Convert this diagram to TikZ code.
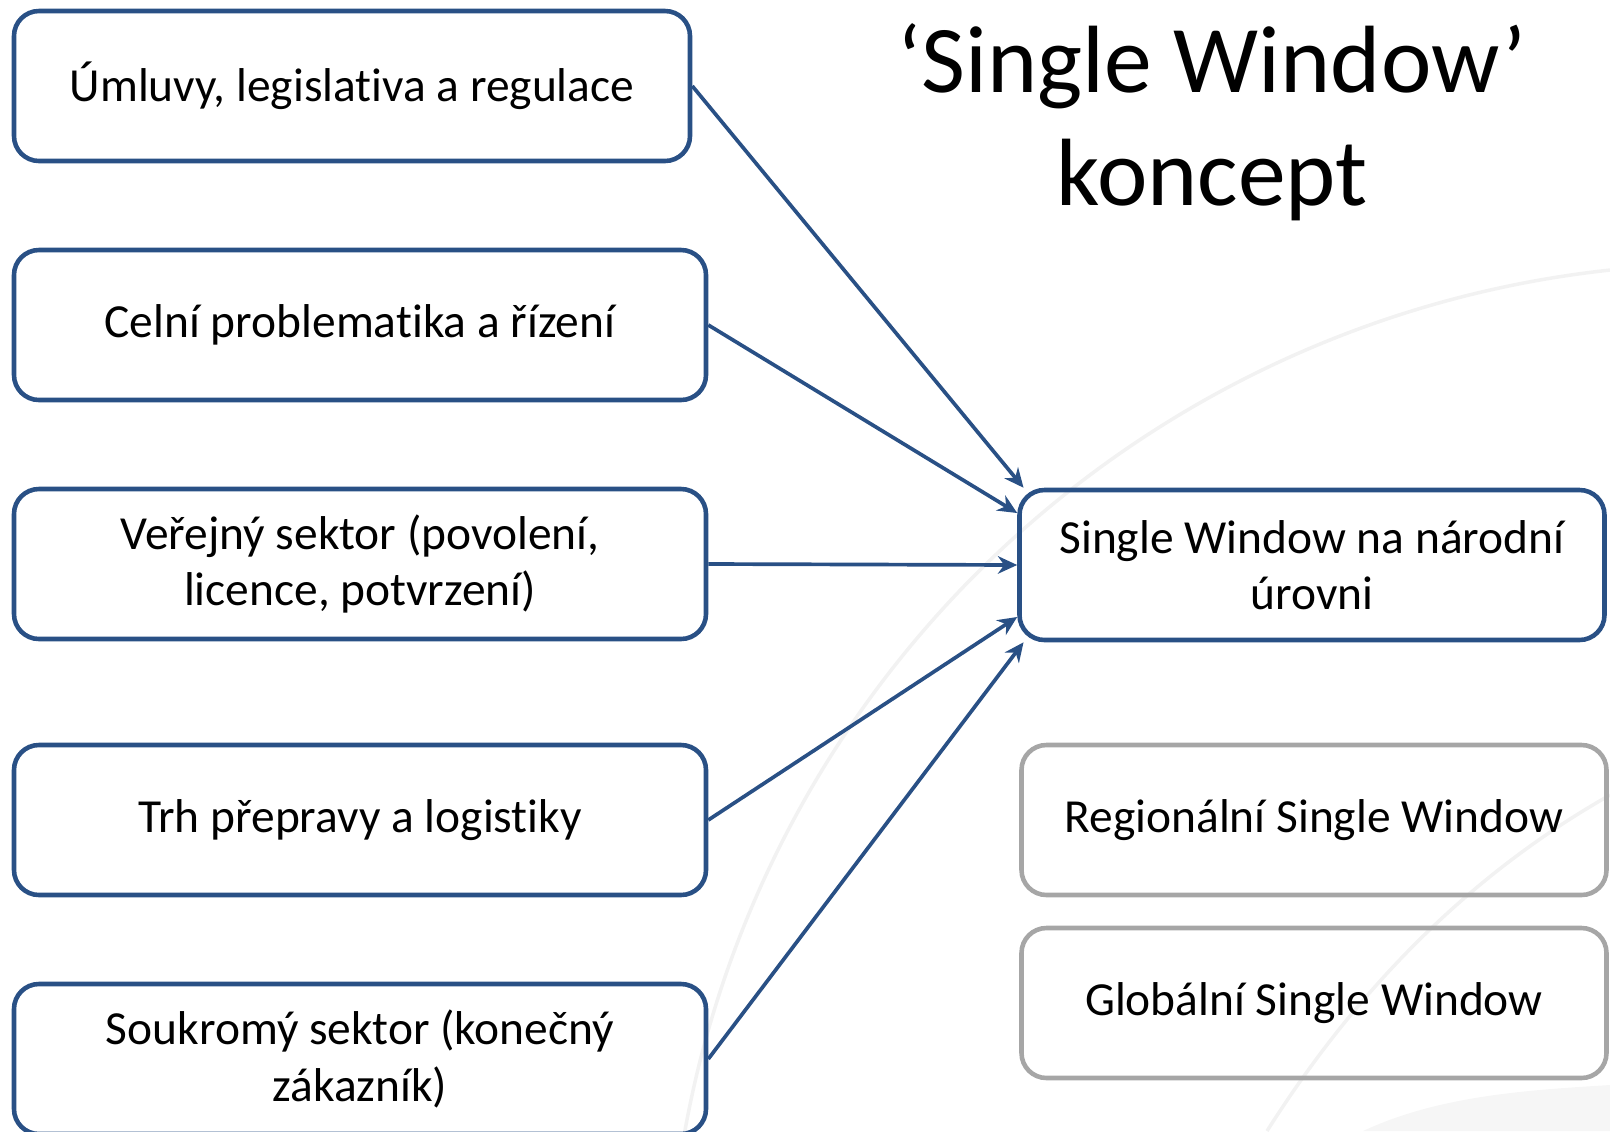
\documentclass[tikz,border=0pt]{standalone}
\usepackage{fontspec}
\setmainfont{Carlito}[Ligatures=NoCommon]
\usetikzlibrary{arrows.meta}
\definecolor{boxblue}{RGB}{41,80,133}
\definecolor{boxgray}{RGB}{166,166,166}
\begin{document}
\begin{tikzpicture}[font=\fontsize{13.5}{16}\selectfont,
 bluebox/.style={draw=boxblue,line width=1.3pt,rounded corners=0.25cm,align=center,inner sep=0pt,minimum height=1.5cm},
 graybox/.style={bluebox,draw=boxgray},
 link/.style={draw=boxblue,line width=1.05pt,-{Stealth[length=5.5pt,width=5pt]}}]
 \useasboundingbox (0,0) rectangle (16.1,-11.31);
 \fill[gray!7](13.63,-11.31) .. controls (14.4,-10.95) and (15.3,-10.9) .. (16.1,-10.85)--(16.1,-11.31)--cycle;
 \draw[gray!10,line width=1pt](17.23,-13.19) ++(80:10.55) arc (80:172:10.55);
 \draw[gray!10,line width=1pt](12.67,-11.31) .. controls (13.5,-10.0) and (14.6,-8.8) .. (16.1,-7.95);
 \node[bluebox,minimum width=6.76cm] (umluvy) at (3.52,-0.86) {Úmluvy, legislativa a regulace};
 \node[bluebox,minimum width=6.92cm] (celni) at (3.60,-3.25) {Celní problematika a řízení};
 \node[bluebox,minimum width=6.92cm] (verejny) at (3.60,-5.64) {Veřejný sektor (povolení,\\licence, potvrzení)};
 \node[bluebox,minimum width=6.92cm] (trh) at (3.60,-8.20) {Trh přepravy a logistiky};
 \node[bluebox,minimum width=6.92cm] (soukromy) at (3.60,-10.59) {Soukromý sektor (konečný\\zákazník)};
 \node[bluebox,minimum width=5.85cm] (narodni) at (13.12,-5.65) {Single Window na národní\\úrovni};
 \node[graybox,minimum width=5.85cm] (regionalni) at (13.14,-8.20) {Regionální Single Window};
 \node[graybox,minimum width=5.85cm] (globalni) at (13.14,-10.03) {Globální Single Window};
 \node[font=\fontsize{27.2}{32}\selectfont,align=center] (titul) at (12.12,-1.22) {‘Single Window’\\koncept};
 \draw[link](umluvy.east)--(narodni.165);
 \draw[link](celni.east)--(narodni.170);
 \draw[link](verejny.east)--(narodni.west);
 \draw[link](trh.east)--(narodni.190);
 \draw[link](soukromy.east)--(narodni.195);
\end{tikzpicture}
\end{document}
